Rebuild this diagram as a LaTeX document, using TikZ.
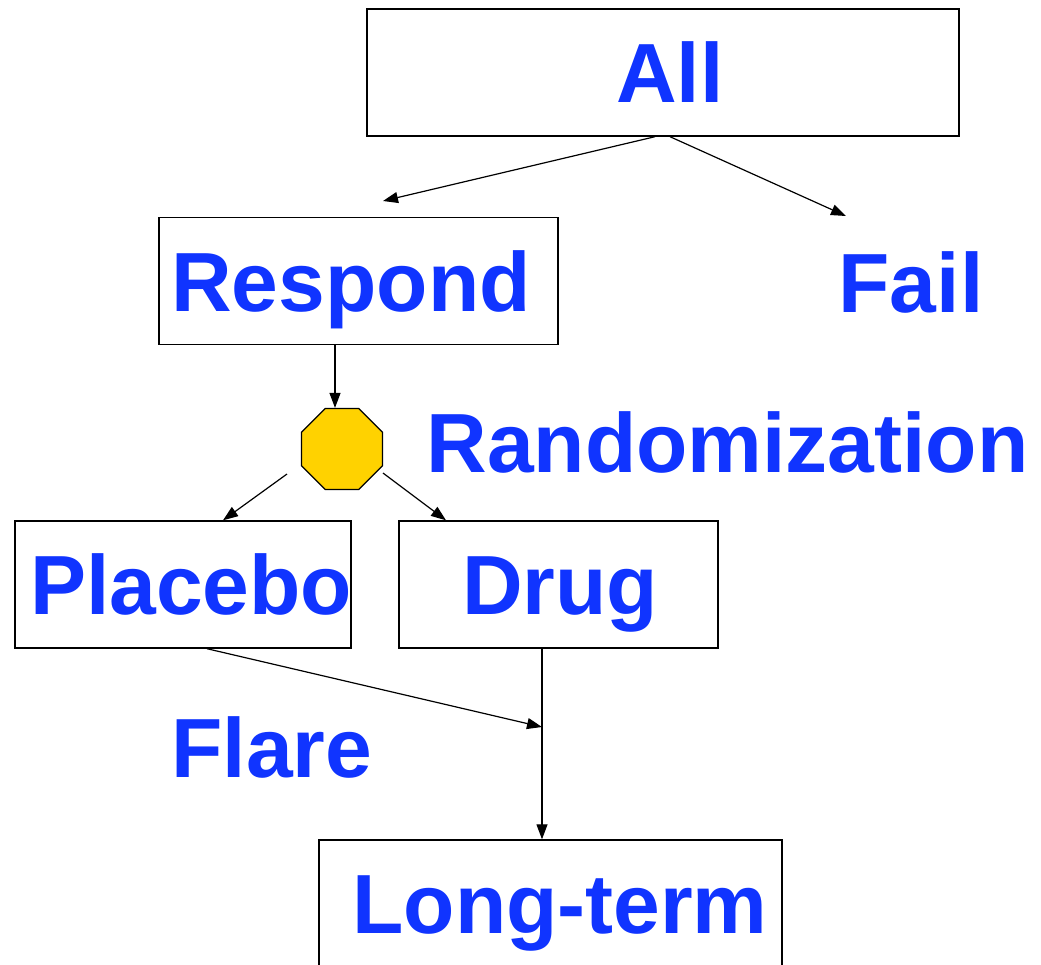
\documentclass[tikz,border=0pt]{standalone}
\usepackage{fontspec}
\newfontfamily\labfont{Liberation Sans}
\usetikzlibrary{shapes.geometric,arrows.meta,calc}
\definecolor{labblue}{RGB}{16,52,255}
\definecolor{octgold}{RGB}{255,210,0}
\begin{document}
\begin{tikzpicture}[x=1pt,y=-1pt,
  lbl/.style={font=\labfont\bfseries\fontsize{84}{90}\selectfont, text=labblue, inner sep=0pt, text height=60pt, text depth=0pt},
  box/.style={lbl, draw=black, line width=1.4pt, minimum height=127pt},
  arr/.style={line width=1.2pt, -{Triangle[length=15pt,width=11pt]}},
  oct/.style={regular polygon, regular polygon sides=8, draw=black, line width=1.2pt, fill=octgold, inner sep=0pt, minimum size=87.7pt}
]
\useasboundingbox (0,0) rectangle (1041,964);
\node[box, minimum width=592pt] (all) at (663,72.5) {\kern14pt All};
\node[box, minimum width=399pt] (respond) at (358.5,281) {Respond\kern15pt};
\node[lbl, anchor=base] (fail) at (911,312) {Fail};
\node[oct] (rand) at (342,449) {};
\node[lbl, anchor=base] (randlbl) at (727.5,472) {Randomization};
\node[box, minimum width=336pt] (placebo) at (183,584.5) {\makebox[306pt][l]{Placebo}};
\node[box, minimum width=319pt] (drug) at (558.5,584.5) {\kern3pt Drug};
\node[lbl, anchor=base] (flare) at (272,777) {Flare};
\node[box, minimum width=463pt] (long) at (550.5,903.5) {\kern19pt Long-term};
\coordinate (respEnd) at (383,201);
\coordinate (failEnd) at (846,216);
\coordinate (j) at (542,727);
\draw[arr] ([xshift=-8pt]all.south) -- (respEnd);
\draw[arr] ([xshift=7pt]all.south) -- (failEnd);
\draw[arr] ([xshift=-23.5pt]respond.south) -- ([xshift=-7pt]rand.north);
\draw[arr] ([shift={(-55,25)}]rand.center) -- ([xshift=40pt]placebo.north);
\draw[arr] ([shift={(41,24)}]rand.center) -- ([xshift=-112.5pt]drug.north);
\draw[arr] ([xshift=24pt]placebo.south) -- (j);
\draw[arr] (drug.south -| j) -- (long.north -| j);
\end{tikzpicture}
\end{document}
